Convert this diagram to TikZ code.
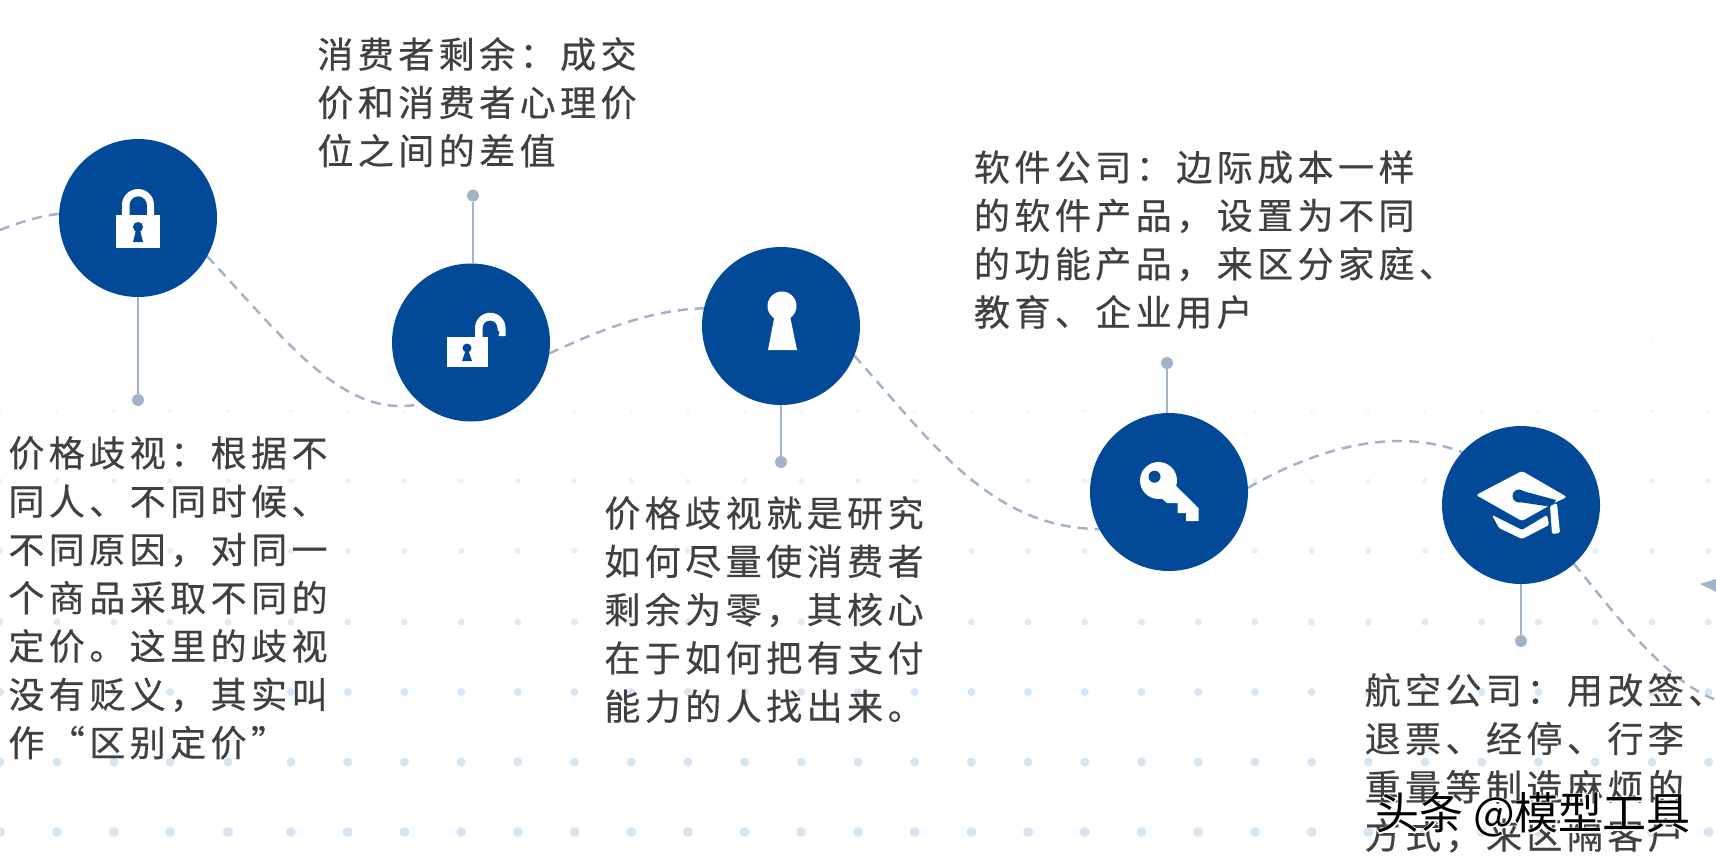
\documentclass[tikz,border=0pt]{standalone}
\usepackage{fontspec}
\usetikzlibrary{positioning, backgrounds}

\newfontfamily\notefont[LetterSpace=12.4, FakeBold=0.5]{Noto Sans CJK SC}
\newfontfamily\markfont{Noto Sans CJK SC}
\newfontfamily\markhalofont[FakeBold=5]{Noto Sans CJK SC}

\definecolor{hubblue}{HTML}{024A98}
\definecolor{waveblue}{HTML}{A3B3C9}
\definecolor{dotblue}{HTML}{D6E5F2}
\definecolor{notegray}{HTML}{404040}

\begin{document}
\begin{tikzpicture}[
    x=1pt, y=-1pt,
    hub/.style={circle, fill=hubblue, minimum size=158pt, inner sep=0pt, outer sep=0pt},
    pin/.style={circle, fill=waveblue, minimum size=12pt, inner sep=0pt, outer sep=0pt},
    stem/.style={draw=waveblue, line width=1.5pt},
    wave/.style={draw=waveblue, line width=2.5pt, dash pattern=on 10pt off 7pt},
    note/.style={font=\notefont\fontsize{36}{48.3}\selectfont, text=notegray, align=left, inner sep=0pt},
    icon/.style={fill=white},
    slot/.style={fill=hubblue},
]
    \useasboundingbox (0,0) rectangle (1716,862);
    \clip (0,0) rectangle (1716,862);

%% NODES
    % lock steps
    \node[hub] (hub_one) at (138,218) {};
    \node[hub] (hub_two) at (471,342.5) {};
    \node[hub] (hub_three) at (781,326) {};
    \node[hub] (hub_four) at (1169,492) {};
    \node[hub] (hub_five) at (1521,505) {};

    % pins
    \node[pin, below=97pt of hub_one] (pin_one) {};
    \node[pin, above=62pt of hub_two, xshift=2pt] (pin_two) {};
    \node[pin, below=51pt of hub_three] (pin_three) {};
    \node[pin, above=44pt of hub_four, xshift=-2pt] (pin_four) {};
    \node[pin, below=51pt of hub_five] (pin_five) {};

    % free ends of the wave
    \coordinate (wave_in) at (0,230);
    \coordinate (wave_out) at (1716,700);

    % notes
    \node[note, below=30pt of pin_one, xshift=30pt] (note_one) {价格歧视：根据不\\同人、不同时候、\\不同原因，对同一\\个商品采取不同的\\定价。这里的歧视\\没有贬义，其实叫\\作“区别定价”};
    \node[note, above=22pt of pin_two, xshift=4pt] (note_two) {消费者剩余：成交\\价和消费者心理价\\位之间的差值};
    \node[note, below=28pt of pin_three, xshift=-17pt] (note_three) {价格歧视就是研究\\如何尽量使消费者\\剩余为零，其核心\\在于如何把有支付\\能力的人找出来。};
    \node[note, above=28pt of pin_four, xshift=47.5pt] (note_four) {软件公司：边际成本一样\\的软件产品，设置为不同\\的功能产品，来区分家庭、\\教育、企业用户};
    \node[note, below=26pt of pin_five, xshift=23.5pt] (note_five) {航空公司：用改签、\\退票、经停、行李\\重量等制造麻烦的\\方式，来区隔客户};

    % mark over the last note
    \node[inner sep=0pt, font=\fontsize{44}{44}\selectfont] (mark) at (1533,815) {\rlap{\markhalofont\color{white}头条 @模型工具}\markfont\color{black}头条 @模型工具};

%% CONNECTIONS
    % dotted ground and wave
    \begin{scope}[on background layer]
        \foreach \rowy/\dotr/\dotop in {271/1.5/0.08, 341/2/0.15, 411/2/0.3, 481/2.5/0.5, 551/3/0.65, 622/3.5/0.8, 692/4/0.95, 762/4.5/1, 832/5/1} {
            \foreach \colx in {0,57,114,170,228,291,347.7,404.4,461.1,517.8,574.5,631.2,687.9,744.6,801.3,858,914.7,971.4,1028.1,1084.8,1141.5,1198.2,1254.9,1311.6,1368.3,1425,1481.7,1538.4,1595.1,1651.8,1708.5}
                \fill[dotblue, opacity=\dotop] (\colx,\rowy) circle[radius=\dotr];
        }
        \draw[wave] (wave_in) .. controls (20,222) and (40,216) .. (hub_one.177);
        \draw[wave] (hub_one.-29) .. controls (290,345) and (345,420) .. (hub_two.231);
        \draw[wave] (hub_two.-8) .. controls (600,330) and (650,310) .. (hub_three.167);
        \draw[wave] (hub_three.-22) .. controls (930,440) and (990,528) .. (hub_four.208);
        \draw[wave] (hub_four.3) .. controls (1310,452) and (1390,425) .. (hub_five.138);
        \draw[wave] (hub_five.-48) .. controls (1620,620) and (1665,680) .. (wave_out);
    \end{scope}

    % hubs -> pins
    \draw[stem] (hub_one) -- (pin_one);
    \draw[stem] (pin_two) -- (pin_two |- hub_two.north);
    \draw[stem] (hub_three) -- (pin_three);
    \draw[stem] (pin_four) -- (pin_four |- hub_four.north);
    \draw[stem] (hub_five) -- (pin_five);

    % pointer at the right edge
    \fill[waveblue] (1700,584) -- (1716,579) -- (1716,592) -- cycle;

%% ICONS
    % closed lock
    \fill[icon] (116,215) rectangle (160,248);
    \fill[icon] (122,216) -- (122,205) arc[start angle=180, end angle=360, radius=16] -- (154,216) -- (147,216) -- (147,205) arc[start angle=360, end angle=180, radius=8.75] -- (129.5,216) -- cycle;
    \fill[slot] (138,227) circle[radius=5];
    \fill[slot] (136,230) -- (140,230) -- (143,242) -- (133,242) -- cycle;

    % open lock
    \fill[icon] (446.6,337) rectangle (488,367);
    \fill[icon] (475,338) -- (475,328) arc[start angle=180, end angle=360, radius=15.25] -- (505.5,336) -- (498.5,336) -- (499.5,332) -- (497.5,330) -- (497.5,328) arc[start angle=360, end angle=180, radius=7.5] -- (482.5,338) -- cycle;
    \fill[slot] (467,348) circle[radius=4.5];
    \fill[slot] (465.5,351) -- (468.5,351) -- (472,361) -- (462,361) -- cycle;

    % keyhole
    \fill[icon] (782,306) circle[radius=14.5];
    \fill[icon] (774.5,316) -- (790,316) -- (797,350) -- (768,350) -- cycle;

    % key
    \fill[icon] (1158.5,480.5) circle[radius=18.5];
    \fill[icon] (1170,480) -- (1198.5,508) -- (1198.5,521) -- (1186,521) -- (1186,513) -- (1177.5,513) -- (1177.5,503) -- (1167,503) -- (1160,497) -- cycle;
    \fill[slot] (1154.5,476.7) circle[radius=6];

    % graduation cap
    \fill[icon, rounded corners=2.5pt] (1476,495) -- (1522,471) -- (1567,497) -- (1552,504) -- (1522,521) -- cycle;
    \fill[slot] (1519,496) circle[radius=6.5];
    \fill[slot] (1519,490) -- (1556,500) -- (1552,507) -- (1519,502) -- cycle;
    \fill[icon, rounded corners=1.5pt] (1550,506) -- (1557,503) -- (1560,533) -- (1552,534) -- cycle;
    \fill[icon, rounded corners=1.5pt] (1492,515) -- (1522,530) -- (1547,515) -- (1549,525) -- (1522,539) -- (1499,528) -- cycle;

\end{tikzpicture}
\end{document}
